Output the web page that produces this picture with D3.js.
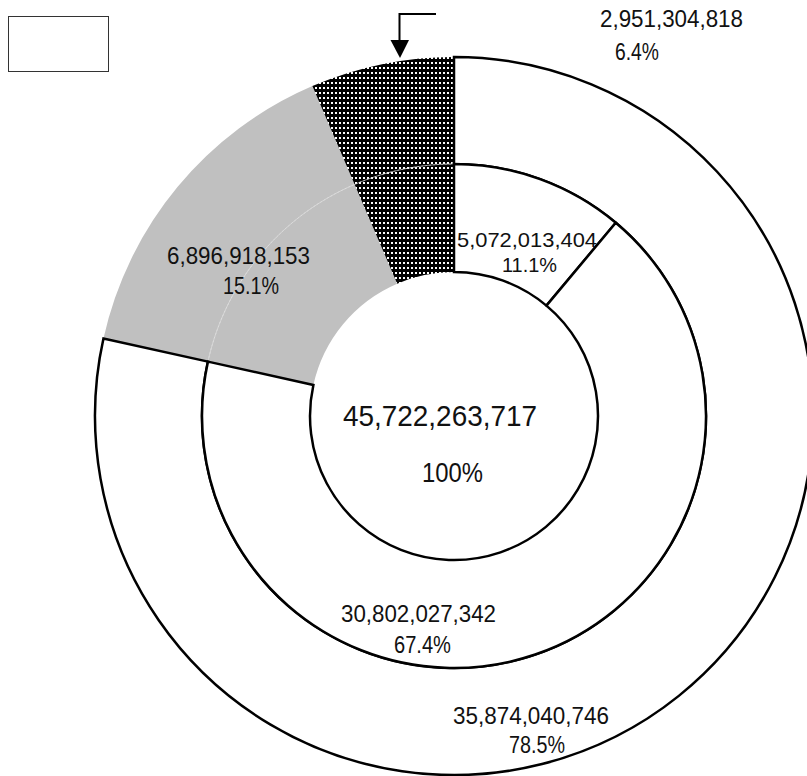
<!DOCTYPE html>
<html>
<head>
<meta charset="utf-8">
<script src="https://cdn.jsdelivr.net/npm/d3@7"></script>
<style>
  html, body { margin: 0; padding: 0; background: #fff; }
  svg { display: block; }
  text { font-family: "Liberation Sans", Arial, sans-serif; fill: #111; }
</style>
</head>
<body>
<script>
// ---- data ----
const total = 45722263717;
const totalPct = "100%";
const outerValues = [35874040746, 6896918153, 2951304818];
const outerPct = ["78.5%", "15.1%", "6.4%"];
const innerValues = [5072013404, 30802027342];
const innerPct = ["11.1%", "67.4%"];

// ---- layout ----
const W = 807, H = 776;
const cx = 454, cy = 416;
const rHole = 144, rMid = 252, rOuter = 359;

const svg = d3.select("body").append("svg").attr("width", W).attr("height", H);

const defs = svg.append("defs");
const pat = defs.append("pattern").attr("id", "dots")
  .attr("patternUnits", "userSpaceOnUse").attr("width", 4).attr("height", 5);
pat.append("rect").attr("width", 4).attr("height", 5).attr("fill", "#000");
pat.append("rect").attr("x", 1).attr("y", 1).attr("width", 2).attr("height", 2).attr("fill", "#fff");

const angle = d3.scaleLinear().domain([0, total]).range([0, 2 * Math.PI]);
const g = svg.append("g").attr("transform", `translate(${cx},${cy})`);

// cumulative positions
const outerSlices = [];
let acc = 0;
outerValues.forEach((v, i) => { outerSlices.push({ i, start: angle(acc), end: angle(acc + v) }); acc += v; });
const innerSlices = [];
acc = 0;
innerValues.forEach((v, i) => { innerSlices.push({ i, start: angle(acc), end: angle(acc + v) }); acc += v; });

const arc = d3.arc();

// gray and dotted segments span whole radius (hole to outer)
const fills = [null, "#c0c0c0", "url(#dots)"];
outerSlices.slice(1).forEach(s => {
  g.append("path")
    .attr("d", arc({ innerRadius: rHole, outerRadius: rOuter, startAngle: s.start, endAngle: s.end }))
    .attr("fill", fills[s.i]);
});
// faint arc inside them
g.append("path")
  .attr("d", d3.arc()({ innerRadius: rMid, outerRadius: rMid, startAngle: outerSlices[1].start, endAngle: outerSlices[2].end }))
  .attr("fill", "none").attr("stroke", "#e4e4e4").attr("stroke-width", 0.6).attr("stroke-dasharray", "3,1");

// white outer segment
const s0 = outerSlices[0];
g.append("path")
  .attr("d", arc({ innerRadius: rMid, outerRadius: rOuter, startAngle: s0.start, endAngle: s0.end }))
  .attr("fill", "#fff").attr("stroke", "#000").attr("stroke-width", 2.5).attr("stroke-linejoin", "miter");

// inner white segments
innerSlices.forEach(s => {
  g.append("path")
    .attr("d", arc({ innerRadius: rHole, outerRadius: rMid, startAngle: s.start, endAngle: s.end }))
    .attr("fill", "#fff").attr("stroke", "#000").attr("stroke-width", 2.5);
});

// ---- labels ----
const fmt = d3.format(",");
const labels = [
  { text: fmt(outerValues[2]), x: 600, y: 27, w: 143 },
  { text: outerPct[2], x: 615, y: 60, w: 44 },
  { text: fmt(innerValues[0]), x: 457, y: 247, w: 140, size: 21 },
  { text: innerPct[0], x: 502, y: 272, w: 55, size: 21 },
  { text: fmt(outerValues[1]), x: 167, y: 264, w: 143 },
  { text: outerPct[1], x: 223, y: 294, w: 56 },
  { text: fmt(total), x: 343, y: 426, w: 194, size: 30 },
  { text: totalPct, x: 422, y: 482, w: 61, size: 28 },
  { text: fmt(innerValues[1]), x: 341, y: 622, w: 155 },
  { text: innerPct[1], x: 394, y: 653, w: 57 },
  { text: fmt(outerValues[0]), x: 453, y: 724, w: 156 },
  { text: outerPct[0], x: 509, y: 753, w: 56 }
];
svg.selectAll("text.lbl").data(labels).enter().append("text")
  .attr("class", "lbl")
  .attr("x", d => d.x).attr("y", d => d.y)
  .attr("font-size", d => d.size || 23)
  .attr("textLength", d => d.w)
  .attr("lengthAdjust", "spacingAndGlyphs")
  .text(d => d.text);

// ---- legend box (empty) ----
svg.append("rect").attr("x", 8.5).attr("y", 16.5).attr("width", 100).attr("height", 55)
  .attr("fill", "#fff").attr("stroke", "#333").attr("stroke-width", 1);

// ---- arrow ----
svg.append("path").attr("d", "M436,14 H399.5 V42")
  .attr("fill", "none").attr("stroke", "#000").attr("stroke-width", 2);
svg.append("path").attr("d", "M390.5,40 L409,40 L400,58 Z").attr("fill", "#000");
</script>
</body>
</html>
